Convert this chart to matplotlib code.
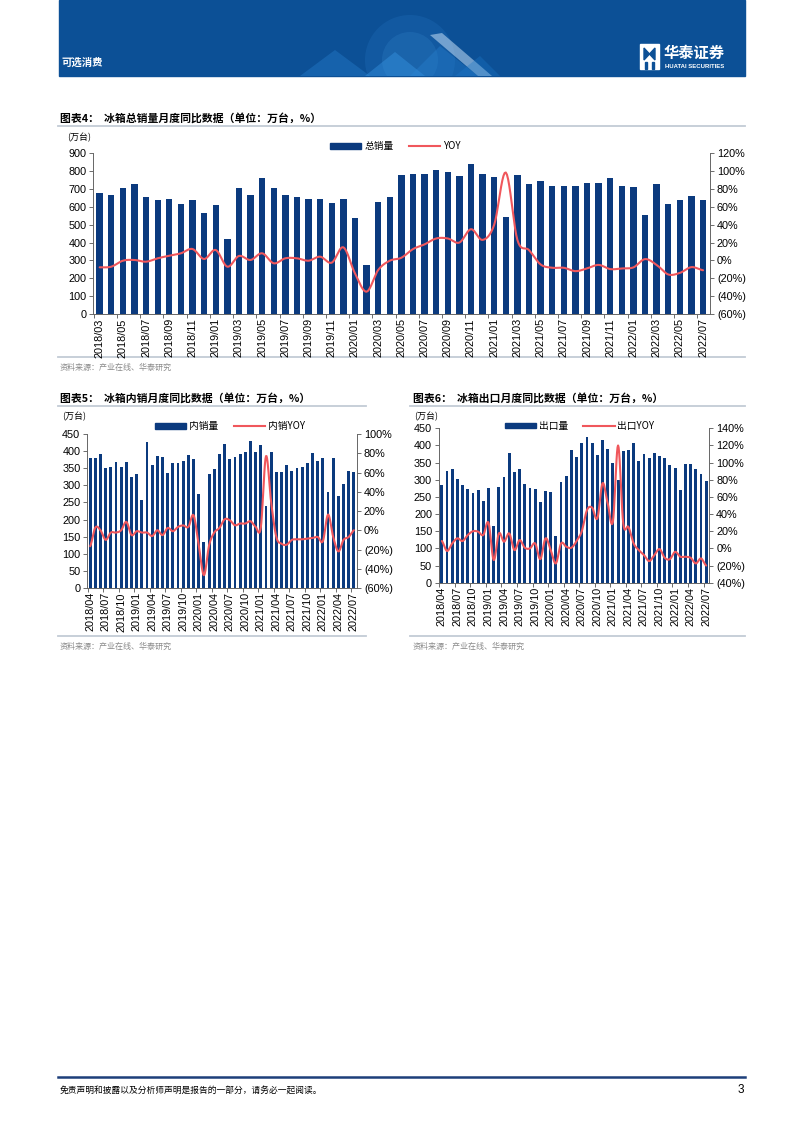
import numpy as np
import pandas as pd
import matplotlib
matplotlib.use('Agg')
import matplotlib.pyplot as plt
from matplotlib.patches import Rectangle, Polygon, Circle
from matplotlib.lines import Line2D
from matplotlib.ticker import FuncFormatter, FixedLocator, MultipleLocator

plt.rcParams['font.family'] = ['Liberation Sans', 'Noto Sans CJK SC']
CJK = ['Noto Sans CJK SC', 'Liberation Sans']

# ---------------- data ----------------
months_total = list(pd.period_range('2018-03', '2022-07', freq='M').strftime('%Y/%m'))
months_52 = list(pd.period_range('2018-04', '2022-07', freq='M').strftime('%Y/%m'))

total_sales = [676, 665, 704, 726, 653, 639, 642, 614, 639, 564, 609, 422,
               706, 667, 762, 704, 668, 653, 642, 642, 624, 642, 536, 274,
               627, 657, 780, 784, 782, 808, 797, 771, 842, 784, 769, 541,
               777, 728, 745, 717, 717, 715, 734, 736, 760, 717, 713, 553,
               726, 614, 637, 659, 637]
total_yoy = [-7.7, -7.0, -0.3, 0.5, -1.4, 2.4, 5.3, 8.0, 12.8, 1.6, 11.7, -7.0,
             5.0, 0.5, 8.0, -3.2, 2.4, 2.4, -0.3, 4.2, -2.5, 14.7, -14.4, -35.0,
             -10.7, -0.3, 3.0, 12.7, 18.0, 24.6, 24.6, 20.0, 35.0, 23.0, 40.0, 98.5,
             23.0, 11.6, -4.5, -8.2, -8.2, -12.0, -9.0, -5.0, -9.7, -9.0, -7.8, 1.5,
             -5.0, -15.7, -14.0, -7.5, -11.0]

dom_sales = [381, 379, 391, 351, 355, 368, 355, 369, 325,
             332, 256, 428, 359, 385, 383, 335, 365, 366, 370, 389, 377,
             275, 135, 332, 348, 392, 420, 377, 384, 391, 397, 429, 397,
             418, 239, 396, 339, 339, 359, 341, 352, 355, 365, 394, 371,
             379, 280, 381, 269, 305, 343, 340]
dom_yoy = [-16.6, 2.8, 0.0, -10.0, -2.4, -2.4, 0.0, 8.7, -5.0,
           -1.0, -2.4, -2.4, -6.0, 0.0, -5.0, 2.4, -1.0, 3.5, 5.0, 3.5, 15.6,
           -15.6, -46.7, -15.6, -2.4, 2.4, 11.4, 10.4, 5.2, 7.0, 7.0, 9.4, 3.5,
           3.0, 77.0, 29.0, -7.0, -14.0, -15.0, -10.0, -9.4, -9.4, -8.7, -8.0, -7.0,
           -11.4, 16.3, -7.0, -22.0, -10.0, -7.0, 0.0]

exp_sales = [285, 325, 331, 302, 286, 274, 260, 269, 237,
             275, 165, 280, 307, 377, 323, 332, 289, 276, 273, 236, 266,
             263, 136, 294, 311, 388, 366, 407, 426, 407, 372, 417, 389,
             350, 300, 383, 388, 407, 356, 374, 362, 378, 369, 364, 343,
             334, 271, 346, 345, 331, 316, 296]
exp_yoy = [8.6, -3.0, 5.8, 11.7, 8.6, 15.6, 20.0, 19.5, 15.6,
           30.0, -13.6, 17.5, 7.8, 17.5, -2.0, 9.7, 0.8, 0.0, 5.8, -12.5, 11.7,
           -2.0, -17.5, 5.8, 2.0, 0.8, 8.6, 20.0, 44.7, 47.5, 35.0, 76.0, 52.5,
           31.0, 120.0, 29.0, 25.0, 5.8, -2.0, -7.8, -14.8, -7.8, -0.8, -11.0, -12.5,
           -4.0, -9.7, -9.7, -11.0, -17.5, -11.7, -20.0]

BAR = '#0b3a7e'
LINE = '#f0575c'
W, H = 802, 1133


def smooth(y, n=10):
    # catmull-rom curve through the points, like excel's smoothed line
    y = np.asarray(y, float)
    p = np.concatenate([[y[0]], y, [y[-1]]])
    xs, ys = [], []
    t = np.linspace(0, 1, n, endpoint=False)
    for i in range(len(y) - 1):
        p0, p1, p2, p3 = p[i], p[i + 1], p[i + 2], p[i + 3]
        ys.append(0.5 * (2 * p1 + (-p0 + p2) * t + (2 * p0 - 5 * p1 + 4 * p2 - p3) * t ** 2
                         + (-p0 + 3 * p1 - 3 * p2 + p3) * t ** 3))
        xs.append(i + t)
    xs.append([len(y) - 1])
    ys.append([y[-1]])
    return np.concatenate(xs), np.concatenate(ys)


def pct(v, pos):
    v = int(round(v))
    return f'{v}%' if v >= 0 else f'({-v}%)'


def axbox(x0, x1, y0, y1):
    return [x0 / W, 1 - y1 / H, (x1 - x0) / W, (y1 - y0) / H]


fig = plt.figure(figsize=(W / 100, H / 100), dpi=100)

# page layer in pixel coords
bg = fig.add_axes([0, 0, 1, 1], zorder=-5)
bg.set_xlim(0, W)
bg.set_ylim(H, 0)
bg.axis('off')

# header banner
banner = Rectangle((59, 0), 686, 76, color='#0c5096')
bg.add_patch(banner)
deco = [Circle((410, 60), 45, color='#2f86d6', alpha=0.18, lw=0),
        Circle((410, 60), 28, color='#4aa3ea', alpha=0.15, lw=0)]
for pts, c, a in [([(300, 76), (335, 50), (370, 76)], '#2a86d6', 0.35),
                  ([(365, 76), (395, 52), (425, 76)], '#3a9ae8', 0.4),
                  ([(410, 76), (440, 46), (478, 76)], '#2a86d6', 0.35),
                  ([(430, 35), (442, 33), (492, 76), (478, 76)], '#c4def5', 0.55),
                  ([(455, 76), (480, 56), (500, 76)], '#1c78c9', 0.35)]:
    deco.append(Polygon(pts, closed=True, color=c, alpha=a, lw=0))
for p in deco:
    bg.add_patch(p)
    p.set_clip_path(banner)
bg.text(62, 63, '可选消费', color='white', fontsize=7.5, fontweight='bold',
        family=CJK, va='center', ha='left')
bg.add_patch(Rectangle((640, 44), 19, 25, color='white'))
bg.add_patch(Polygon([(644, 48), (649.5, 54), (644, 60)], color='#0c5096'))
bg.add_patch(Polygon([(655, 48), (649.5, 54), (655, 60)], color='#0c5096'))
bg.add_patch(Rectangle((645, 62), 2, 7, color='#0c5096'))
bg.add_patch(Rectangle((652, 62), 2, 7, color='#0c5096'))
bg.text(664, 53, '华泰证券', color='white', fontsize=11, fontweight='bold',
        family=CJK, va='center', ha='left')
bg.text(665, 67, 'HUATAI SECURITIES', color='white', fontsize=4.3, fontweight='bold',
        va='center', ha='left')

# titles, rules, sources
TITLE_KW = dict(fontsize=7.8, fontweight='bold', family=CJK, va='center', ha='left', color='black')
SRC_KW = dict(fontsize=5.8, family=CJK, va='center', ha='left', color='#8a8a8a')
RULE = '#c3cbd6'

bg.text(60, 118, '图表4：  冰箱总销量月度同比数据（单位：万台，%）', **TITLE_KW)
bg.plot([58, 745], [126, 126], color=RULE, lw=1.3)
bg.plot([58, 745], [357, 357], color=RULE, lw=1.3)
bg.text(60, 367, '资料来源：产业在线、华泰研究', **SRC_KW)

bg.text(60, 398, '图表5：  冰箱内销月度同比数据（单位：万台，%）', **TITLE_KW)
bg.plot([58, 366], [406, 406], color=RULE, lw=1.3)
bg.plot([58, 366], [636, 636], color=RULE, lw=1.3)
bg.text(60, 646, '资料来源：产业在线、华泰研究', **SRC_KW)

bg.text(413, 398, '图表6：  冰箱出口月度同比数据（单位：万台，%）', **TITLE_KW)
bg.plot([410, 745], [406, 406], color=RULE, lw=1.3)
bg.plot([410, 745], [636, 636], color=RULE, lw=1.3)
bg.text(413, 646, '资料来源：产业在线、华泰研究', **SRC_KW)

# footer
bg.plot([58, 745], [1077, 1077], color='#1d3f7a', lw=1.8)
bg.text(60, 1090, '免责声明和披露以及分析师声明是报告的一部分，请务必一起阅读。',
        fontsize=6.3, family=CJK, va='center', ha='left', color='black')
bg.text(744, 1090, '3', fontsize=8.5, va='center', ha='right', color='black')


def combo(box, cats, bars, yoy, ymax, ystep, plim, pstep, every, legend_labels,
          legend_pos, unit_xy):
    ax = fig.add_axes(axbox(*box))
    x = np.arange(len(cats))
    ax.bar(x, bars, width=0.55, color=BAR, zorder=2)
    ax.set_xlim(-0.55, len(cats) - 0.4)
    ax.set_ylim(0, ymax)
    ax.yaxis.set_major_locator(MultipleLocator(ystep))
    ax.set_xticks(x[::every])
    ax.set_xticklabels(cats[::every], rotation=90, fontsize=7.8)
    ax.xaxis.set_minor_locator(FixedLocator(x[::every] - 0.5))
    ax.tick_params(axis='x', which='major', length=0, pad=3)
    ax.tick_params(axis='x', which='minor', length=3, width=0.6, color='#555555')
    ax.tick_params(axis='y', labelsize=7.8, length=3, width=0.6, color='#555555', pad=2)
    for s in ['top', 'right']:
        ax.spines[s].set_visible(False)
    for s in ['left', 'bottom']:
        ax.spines[s].set_color('#666666')
        ax.spines[s].set_linewidth(0.7)

    ax2 = ax.twinx()
    sx, sy = smooth(yoy)
    ax2.plot(sx, sy, color=LINE, lw=1.5, solid_capstyle='round', zorder=3)
    ax2.set_ylim(*plim)
    ax2.yaxis.set_major_locator(MultipleLocator(pstep))
    ax2.yaxis.set_major_formatter(FuncFormatter(pct))
    ax2.tick_params(axis='y', labelsize=7.8, length=3, width=0.6, color='#555555', pad=2)
    for s in ['top', 'left', 'bottom']:
        ax2.spines[s].set_visible(False)
    ax2.spines['right'].set_color('#666666')
    ax2.spines['right'].set_linewidth(0.7)

    handles = [Rectangle((0, 0), 1, 1, color=BAR),
               Line2D([], [], color=LINE, lw=1.5)]
    leg = ax.legend(handles, legend_labels, ncol=2, loc='center', frameon=False,
                    bbox_to_anchor=legend_pos, bbox_transform=ax.transAxes,
                    handlelength=3.2, handleheight=0.55, columnspacing=1.6,
                    handletextpad=0.3, prop={'family': CJK, 'size': 7})
    leg.set_zorder(10)
    bg.text(unit_xy[0], unit_xy[1], '(万台)', fontsize=6.5, family=CJK,
            va='center', ha='left', color='black')
    return ax, ax2


combo((93.3, 710, 153.3, 314), months_total, total_sales, total_yoy, 900, 100,
      (-60, 120), 20, 2, ['总销量', 'YOY'], (0.49, 1.045), (67, 138))
combo((87.3, 357, 434, 588), months_52, dom_sales, dom_yoy, 450, 50,
      (-60, 100), 20, 3, ['内销量', '内销YOY'], (0.53, 1.05), (62, 417))
combo((439, 709.3, 428.3, 582.7), months_52, exp_sales, exp_yoy, 450, 50,
      (-40, 140), 20, 3, ['出口量', '出口YOY'], (0.52, 1.015), (414, 417))

fig.savefig('out.png', dpi=100)
